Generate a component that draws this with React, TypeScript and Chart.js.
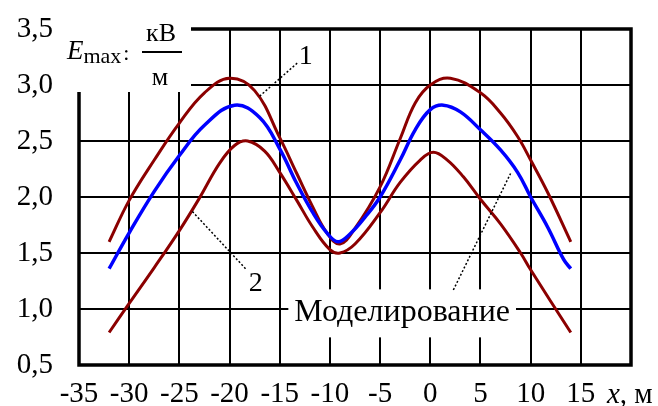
import React, { useEffect, useRef } from "react";
import { Chart, registerables } from "chart.js";

Chart.register(...registerables);

// Measured curve 1 (upper), modelled curve, and measured curve 2 (lower)
const curve1X = [-32, -30, -27.5, -25, -22.5, -20, -17.5, -15, -13.3, -11.7, -10.3, -9, -7.5, -5, -3, -1.5, 0, 2, 5, 7, 8.7, 10, 11.7, 14];
const curve1Y = [1.6, 1.97, 2.33, 2.66, 2.93, 3.06, 2.95, 2.53, 2.21, 1.91, 1.68, 1.58, 1.72, 2.09, 2.52, 2.84, 3.0, 3.06, 2.93, 2.75, 2.54, 2.33, 2.04, 1.6];

const modelX = [-32, -30, -27.5, -25, -22.5, -19.5, -17, -15, -13.3, -11.7, -10.3, -9.2, -8, -6.5, -5, -3, -1.5, 0, 1.3, 3, 5, 7, 8.7, 10, 11.7, 13.3, 14];
const modelY = [1.36, 1.68, 2.05, 2.37, 2.64, 2.82, 2.71, 2.43, 2.12, 1.86, 1.68, 1.6, 1.67, 1.82, 2.0, 2.33, 2.6, 2.78, 2.82, 2.76, 2.6, 2.42, 2.22, 2.0, 1.73, 1.44, 1.36];

const curve2X = [-32, -30, -27.5, -25, -23, -21, -19.5, -18.2, -16.5, -15, -13.3, -11.7, -10, -9, -7.5, -5, -3, -1, 0.3, 1.7, 3.3, 5, 7, 9, 10, 14];
const curve2Y = [0.79, 1.05, 1.37, 1.7, 1.99, 2.3, 2.46, 2.5, 2.41, 2.22, 1.97, 1.73, 1.53, 1.5, 1.58, 1.86, 2.13, 2.33, 2.4, 2.33, 2.18, 1.98, 1.76, 1.5, 1.35, 0.79];

// Axis ticks
const xTicks = [-35, -30, -25, -20, -15, -10, -5, 0, 5, 10, 15, 20];
const yTicks = [0.5, 1.0, 1.5, 2.0, 2.5, 3.0, 3.5];

const SERIF = "'Liberation Serif', 'Tinos', 'Times New Roman', 'DejaVu Serif', serif";
const DARK_RED = "#8B0000";
const BLUE = "#0000FF";

const toPoints = (xs: number[], ys: number[]) => xs.map((x, i) => ({ x, y: ys[i] }));

// Frame, captions, leader lines and the Y-axis title
const decorPlugin = {
  id: "decor",
  beforeDatasetsDraw(chart: any) {
    const { ctx, chartArea: a, scales } = chart;
    const sx = scales.x;
    const sy = scales.y;
    ctx.save();
    // heavy frame
    ctx.strokeStyle = "#000";
    ctx.lineWidth = 3.5;
    ctx.strokeRect(a.left, a.top, a.right - a.left, a.bottom - a.top);
    // blank corner behind the axis title
    ctx.fillStyle = "#fff";
    ctx.fillRect(a.left - 4, 0, 191 - (a.left - 4), 92);
    // blank band behind the "Моделирование" caption
    ctx.font = `32px ${SERIF}`;
    const cap = "Моделирование";
    const w = ctx.measureText(cap).width;
    const cx = sx.getPixelForValue(-2.8);
    const cy = sy.getPixelForValue(0.97);
    ctx.fillRect(cx - w / 2 - 6, cy - 23, w + 12, 48);
    ctx.restore();
  },
  afterDatasetsDraw(chart: any) {
    const { ctx, scales } = chart;
    const sx = scales.x;
    const sy = scales.y;
    const px = (x: number) => sx.getPixelForValue(x);
    const py = (y: number) => sy.getPixelForValue(y);
    ctx.save();
    ctx.fillStyle = "#000";
    ctx.strokeStyle = "#000";

    // leader lines
    ctx.lineWidth = 1.5;
    ctx.setLineDash([2, 2]);
    const leader = (x1: number, y1: number, x2: number, y2: number) => {
      ctx.beginPath();
      ctx.moveTo(px(x1), py(y1));
      ctx.lineTo(px(x2), py(y2));
      ctx.stroke();
    };
    leader(-17.0, 2.9, -13.2, 3.2);
    leader(-23.7, 1.87, -18.3, 1.35);
    leader(2.3, 1.17, 8.0, 2.21);
    ctx.setLineDash([]);

    // curve numbers
    ctx.font = `28px ${SERIF}`;
    ctx.textAlign = "center";
    ctx.textBaseline = "middle";
    ctx.fillText("1", px(-12.4), py(3.25));
    ctx.fillText("2", px(-17.4), py(1.23));

    // caption
    ctx.font = `32px ${SERIF}`;
    ctx.fillText("Моделирование", px(-2.8), py(0.97));

    // x-axis unit in place of the last tick
    ctx.textAlign = "left";
    ctx.textBaseline = "alphabetic";
    const ux = px(20) - 24;
    const uy = 403;
    ctx.font = `italic 29px ${SERIF}`;
    ctx.fillText("x", ux, uy);
    const xw = ctx.measureText("x").width;
    ctx.font = `29px ${SERIF}`;
    ctx.fillText(", м", ux + xw, uy);

    // y-axis title: E_max, кВ/м
    ctx.font = `italic 27px ${SERIF}`;
    ctx.fillText("E", 67, 59);
    const ew = ctx.measureText("E").width;
    ctx.font = `22px ${SERIF}`;
    ctx.fillText("max", 67 + ew, 63);
    const mw = ctx.measureText("max").width;
    ctx.fillText(":", 67 + ew + mw + 2, 60);
    ctx.textAlign = "center";
    ctx.font = `26px ${SERIF}`;
    ctx.fillText("кВ", 161, 41);
    ctx.fillText("м", 160, 85);
    ctx.lineWidth = 2;
    ctx.beginPath();
    ctx.moveTo(142, 52);
    ctx.lineTo(182, 52);
    ctx.stroke();
    ctx.restore();
  },
};

export default function App() {
  const canvasRef = useRef<HTMLCanvasElement | null>(null);

  useEffect(() => {
    const canvas = canvasRef.current;
    if (!canvas) return;
    const chart = new Chart(canvas, {
      type: "line",
      data: {
        datasets: [
          {
            label: "Моделирование",
            data: toPoints(modelX, modelY),
            borderColor: BLUE,
            borderWidth: 3.5,
            tension: 0.4,
          },
          {
            label: "1",
            data: toPoints(curve1X, curve1Y),
            borderColor: DARK_RED,
            borderWidth: 3,
            tension: 0.4,
          },
          {
            label: "2",
            data: toPoints(curve2X, curve2Y),
            borderColor: DARK_RED,
            borderWidth: 3,
            tension: 0.4,
          },
        ],
      },
      options: {
        animation: false,
        responsive: false,
        maintainAspectRatio: false,
        layout: { padding: { top: 29, right: 27, left: 0, bottom: 0 } },
        elements: { point: { radius: 0 } },
        plugins: { legend: { display: false }, tooltip: { enabled: false } },
        scales: {
          x: {
            type: "linear",
            min: xTicks[0],
            max: xTicks[xTicks.length - 1],
            afterBuildTicks: (scale: any) => {
              scale.ticks = xTicks.map((v) => ({ value: v }));
            },
            afterFit: (scale: any) => {
              scale.height = 41;
              scale.paddingLeft = 0;
              scale.paddingRight = 0;
            },
            ticks: {
              autoSkip: false,
              maxRotation: 0,
              padding: 12,
              color: "#000",
              font: { family: SERIF, size: 29 },
              callback: (v: any) => (v === xTicks[xTicks.length - 1] ? "" : String(v)),
            },
            grid: { color: "#000", lineWidth: 2, drawTicks: false },
            border: { display: false },
          },
          y: {
            type: "linear",
            min: yTicks[0],
            max: yTicks[yTicks.length - 1],
            afterBuildTicks: (scale: any) => {
              scale.ticks = yTicks.map((v) => ({ value: v }));
            },
            afterFit: (scale: any) => {
              scale.width = 79;
              scale.paddingTop = 0;
              scale.paddingBottom = 0;
            },
            ticks: {
              padding: 26,
              color: "#000",
              font: { family: SERIF, size: 29 },
              callback: (v: any) => Number(v).toFixed(1).replace(".", ","),
            },
            grid: { color: "#000", lineWidth: 2, drawTicks: false },
            border: { display: false },
          },
        },
      },
      plugins: [decorPlugin],
    });
    return () => chart.destroy();
  }, []);

  return (
    <div style={{ position: "absolute", left: 0, top: 0, width: 658, height: 406, background: "#fff" }}>
      <canvas ref={canvasRef} width={658} height={406} style={{ display: "block" }} />
    </div>
  );
}
